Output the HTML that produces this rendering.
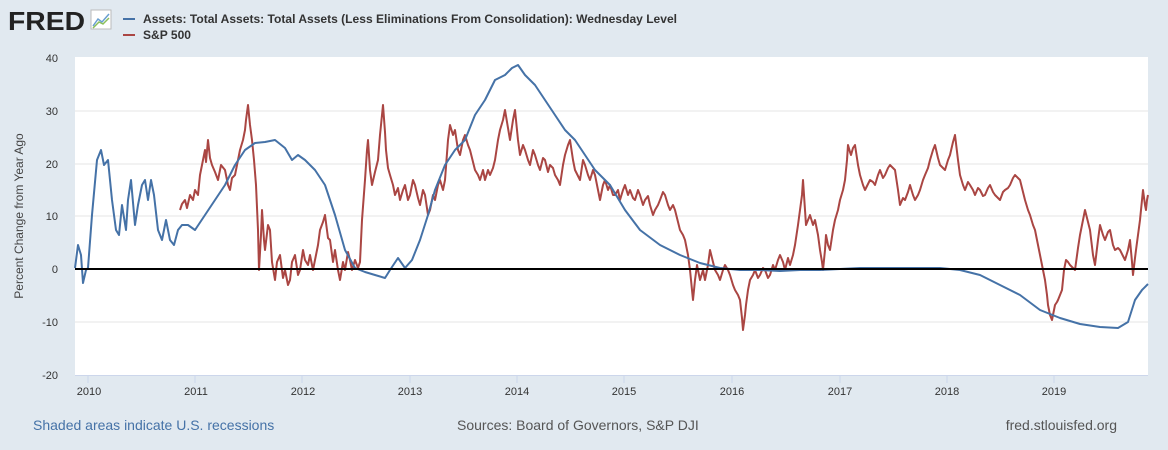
<!DOCTYPE html>
<html><head><meta charset="utf-8"><style>
html,body{margin:0;padding:0;background:#e1e9f0;}
body{width:1168px;height:450px;position:relative;overflow:hidden;font-family:"Liberation Sans",sans-serif;}
</style></head><body>
<svg width="1168" height="450" xmlns="http://www.w3.org/2000/svg" style="position:absolute;left:0;top:0">
<text x="8" y="30" font-family="Liberation Sans" font-weight="bold" font-size="26" fill="#222" textLength="77" lengthAdjust="spacingAndGlyphs">FRED</text>
<g transform="translate(91,10)"><rect width="20" height="19" fill="#fff" stroke="#bbb"/><polyline points="2,16 7,9 11,12 18,4" fill="none" stroke="#6a9fd0" stroke-width="1.5"/><polyline points="2,18 8,12 12,14 18,8" fill="none" stroke="#8bbf5a" stroke-width="1.5"/></g>
<line x1="123" y1="19" x2="135" y2="19" stroke="#4572a7" stroke-width="2"/>
<text x="143" y="23" font-size="12" fill="#333" font-weight="bold" textLength="534" lengthAdjust="spacingAndGlyphs">Assets: Total Assets: Total Assets (Less Eliminations From Consolidation): Wednesday Level</text>
<line x1="123" y1="35" x2="135" y2="35" stroke="#aa4643" stroke-width="2"/>
<text x="143" y="39" font-size="12" fill="#333" font-weight="bold" textLength="48" lengthAdjust="spacingAndGlyphs">S&amp;P 500</text>
<rect x="75" y="57" width="1073" height="318" fill="#fff"/>
<g stroke="#e6e6e6" stroke-width="1">
<line x1="75" y1="111" x2="1148" y2="111"/><line x1="75" y1="164" x2="1148" y2="164"/><line x1="75" y1="216" x2="1148" y2="216"/><line x1="75" y1="322" x2="1148" y2="322"/>
</g>
<line x1="75" y1="375.5" x2="1148" y2="375.5" stroke="#ccd6eb"/>
<g stroke="#ccd6eb">
<line x1="88" y1="375" x2="88" y2="383"/><line x1="195" y1="375" x2="195" y2="383"/><line x1="302" y1="375" x2="302" y2="383"/><line x1="410" y1="375" x2="410" y2="383"/><line x1="517" y1="375" x2="517" y2="383"/><line x1="624" y1="375" x2="624" y2="383"/><line x1="732" y1="375" x2="732" y2="383"/><line x1="840" y1="375" x2="840" y2="383"/><line x1="947" y1="375" x2="947" y2="383"/><line x1="1054" y1="375" x2="1054" y2="383"/>
</g>
<g font-size="11" fill="#333" text-anchor="middle">
<text x="89" y="395">2010</text><text x="196" y="395">2011</text><text x="303" y="395">2012</text><text x="410" y="395">2013</text><text x="517" y="395">2014</text><text x="624" y="395">2015</text><text x="732" y="395">2016</text><text x="840" y="395">2017</text><text x="947" y="395">2018</text><text x="1054" y="395">2019</text>
</g>
<g font-size="11" fill="#333" text-anchor="end">
<text x="58" y="62">40</text><text x="58" y="115">30</text><text x="58" y="168">20</text><text x="58" y="220">10</text><text x="58" y="273">0</text><text x="58" y="326">-10</text><text x="58" y="379">-20</text>
</g>
<text transform="translate(23,216) rotate(-90)" font-size="12" fill="#444" text-anchor="middle">Percent Change from Year Ago</text>
<polyline fill="none" stroke="#aa4643" stroke-width="2" stroke-linejoin="round" points="180,210 182,204 185,200 187,208 190,195 193,200 195,190 198,195 200,175 203,160 205,150 206,162 208,140 210,158 212,165 215,172 218,180 221,165 225,170 228,185 230,190 232,178 235,175 238,160 240,150 243,140 245,130 246,120 248,105 250,125 252,140 254,160 256,185 258,230 259,270 261,235 262,210 264,240 265,250 268,225 270,230 272,262 275,280 277,262 280,255 283,278 285,270 288,285 290,280 292,262 295,255 298,275 300,270 303,250 305,260 308,265 310,255 313,270 315,260 318,245 320,230 323,222 325,215 328,238 330,240 333,262 335,250 338,270 340,280 343,262 345,270 348,252 350,260 352,270 355,260 358,268 360,262 362,220 365,180 367,150 368,140 370,170 372,185 375,172 378,160 380,135 383,105 385,132 386,150 388,168 390,175 393,185 395,195 398,188 400,200 403,190 405,185 408,200 410,195 413,180 415,185 418,198 420,205 423,190 425,195 428,215 430,210 433,195 435,200 438,185 440,180 443,190 445,180 448,140 450,125 453,135 455,130 458,150 460,155 463,140 465,135 468,145 470,150 473,162 475,170 478,175 480,180 483,170 485,180 488,170 490,175 493,168 495,160 498,140 500,130 503,120 505,110 508,128 510,140 513,120 515,110 518,140 520,155 523,145 525,150 528,160 530,165 533,150 535,155 538,165 540,170 543,158 545,160 548,172 550,165 553,168 555,175 558,180 560,185 563,165 565,155 568,145 570,140 573,160 575,170 578,176 580,180 583,160 585,165 588,175 590,180 593,170 595,175 598,190 600,200 603,185 605,180 608,190 610,185 613,195 615,195 618,190 620,200 623,190 625,185 628,195 630,190 633,198 635,200 638,190 640,195 643,205 645,200 648,196 650,205 653,215 655,210 658,205 660,200 663,192 665,195 668,205 670,210 673,205 675,210 678,222 680,230 683,235 685,240 688,255 690,270 692,290 693,300 695,280 697,265 699,275 700,280 703,270 705,280 708,265 710,250 713,262 715,270 718,275 720,280 723,270 725,265 728,270 730,275 733,285 735,290 738,295 740,300 742,318 743,330 745,315 746,305 748,290 750,280 753,275 755,270 758,278 760,275 763,268 765,270 768,278 770,275 773,265 775,270 778,260 780,255 783,262 785,270 788,258 790,265 793,255 795,245 798,225 800,210 802,195 803,180 805,210 806,225 808,220 810,215 813,225 815,220 818,235 820,250 822,262 823,270 825,250 826,235 828,245 830,250 833,230 835,220 838,210 840,200 843,190 845,180 847,160 848,145 850,152 851,155 853,148 855,145 858,165 860,175 863,185 865,190 868,184 870,180 873,182 875,185 878,175 880,170 883,178 885,175 888,168 890,165 893,168 895,170 898,190 900,205 903,198 905,200 908,192 910,185 913,195 915,200 918,195 920,190 923,180 925,175 928,168 930,160 933,150 935,145 938,158 940,165 943,168 945,170 948,160 950,155 953,142 955,135 958,160 960,175 963,185 965,190 968,182 970,185 973,190 975,195 978,188 980,190 983,196 985,195 988,188 990,185 993,192 995,195 998,198 1000,200 1003,192 1005,190 1008,188 1010,185 1013,178 1015,175 1018,178 1020,180 1023,192 1025,200 1028,210 1030,215 1033,225 1035,230 1038,245 1040,255 1043,270 1045,280 1047,295 1048,305 1050,315 1052,320 1054,310 1055,305 1057,302 1058,300 1060,295 1062,290 1064,270 1066,260 1068,262 1070,265 1073,268 1075,270 1078,248 1080,235 1083,220 1085,210 1088,222 1090,230 1093,255 1095,265 1098,240 1100,225 1103,235 1105,240 1108,232 1110,230 1113,245 1115,250 1118,248 1120,250 1123,256 1125,260 1128,250 1130,240 1132,262 1133,275 1135,258 1136,250 1138,235 1140,220 1142,200 1143,190 1145,205 1146,210 1147,200 1148,195"/>
<polyline fill="none" stroke="#4572a7" stroke-width="2" stroke-linejoin="round" points="75,268 78,245 81,255 83,283 86,270 88,268 92,215 97,160 101,150 104,165 108,160 112,200 116,230 119,235 122,205 126,230 128,200 131,180 135,225 138,205 142,185 145,180 148,200 151,180 154,195 158,230 162,240 166,220 170,240 174,245 178,230 182,225 188,225 195,230 205,215 215,200 225,185 235,165 245,150 255,143 265,142 275,140 285,148 292,160 298,155 305,160 315,170 325,185 335,215 345,250 355,268 365,272 375,275 385,278 390,270 398,258 405,268 412,260 420,240 428,215 435,190 445,165 455,150 465,140 475,115 485,100 495,80 505,75 512,68 518,65 525,75 535,85 545,100 555,115 565,130 575,140 585,155 595,170 610,185 625,210 640,230 660,245 680,255 700,263 720,268 740,270 760,270 780,271 800,270 820,270 840,269 860,268 880,268 900,268 920,268 940,268 960,270 980,275 1000,285 1020,295 1040,310 1060,318 1080,324 1100,327 1118,328 1128,322 1135,300 1142,290 1148,284"/>
<line x1="75" y1="269" x2="1148" y2="269" stroke="#000" stroke-width="2"/>
<text x="33" y="430" font-size="14" fill="#4572a7">Shaded areas indicate U.S. recessions</text>
<text x="457" y="430" font-size="14" fill="#555">Sources: Board of Governors, S&amp;P DJI</text>
<text x="1117" y="430" font-size="14" fill="#555" text-anchor="end">fred.stlouisfed.org</text>
</svg>
</body></html>
